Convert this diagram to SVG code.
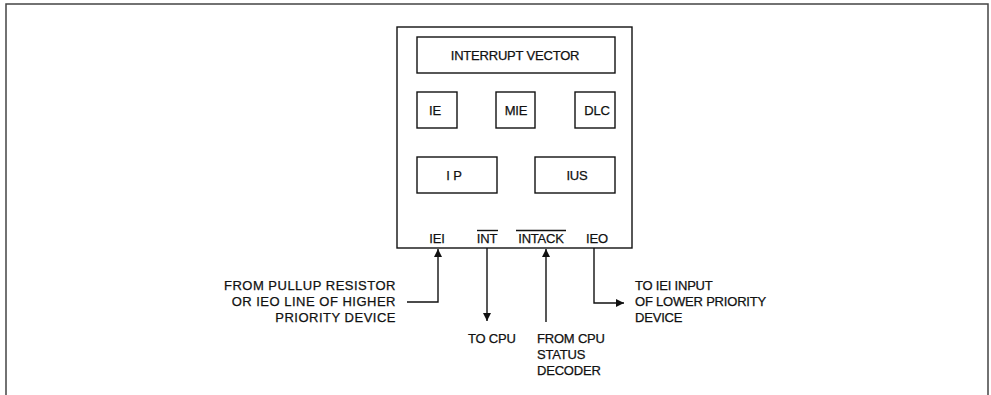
<svg xmlns="http://www.w3.org/2000/svg" width="991" height="395" viewBox="0 0 991 395">
<style>
.box{fill:none;stroke:#111;stroke-width:1.4}
.t{font-family:"Liberation Sans",Arial,sans-serif;font-size:13px;fill:#111;stroke:#111;stroke-width:0.25;letter-spacing:-0.2px}
.w{letter-spacing:0.5px}
.ln{fill:none;stroke:#111;stroke-width:1.4}
.fr{fill:none;stroke:#444;stroke-width:1.5}
</style>
<defs>
<marker id="ah" viewBox="0 0 10 10" refX="10" refY="5" markerWidth="10" markerHeight="8" markerUnits="userSpaceOnUse" orient="auto">
<path d="M0,0 L10,5 L0,10 Z" fill="#111"/>
</marker>
</defs>
<rect width="991" height="395" fill="#fff"/>
<path class="fr" d="M6,395 V4 H988 V395"/>
<g id="chip">
<rect class="box" x="397" y="27" width="235" height="221"/>
</g>
<g id="vector"><rect class="box" x="417" y="37" width="198" height="36"/><text class="t" x="515" y="60" text-anchor="middle">INTERRUPT VECTOR</text></g>
<g id="ie"><rect class="box" x="417" y="92" width="40" height="36"/><text class="t" x="429" y="115">IE</text></g>
<g id="mie"><rect class="box" x="496" y="92" width="39" height="36"/><text class="t" x="516" y="115" text-anchor="middle">MIE</text></g>
<g id="dlc"><rect class="box" x="575" y="92" width="40" height="36"/><text class="t" x="597" y="115" text-anchor="middle">DLC</text></g>
<g id="ip"><rect class="box" x="417" y="157" width="80" height="36"/><text class="t" x="454" y="180" text-anchor="middle">I P</text></g>
<g id="ius"><rect class="box" x="535" y="157" width="80" height="36"/><text class="t" x="577" y="180" text-anchor="middle">IUS</text></g>
<g id="pins">
<text class="t" x="437" y="243" text-anchor="middle">IEI</text>
<text class="t" x="487" y="243" text-anchor="middle">INT</text>
<line class="ln" x1="477" y1="230.5" x2="498" y2="230.5"/>
<text class="t" x="541" y="243" text-anchor="middle">INTACK</text>
<line class="ln" x1="516" y1="230.5" x2="566" y2="230.5"/>
<text class="t" x="597" y="243" text-anchor="middle">IEO</text>
</g>
<g id="connectors">
<path class="ln" d="M407,302 H438 V249" marker-end="url(#ah)"/>
<path class="ln" d="M487,248 V321" marker-end="url(#ah)"/>
<path class="ln" d="M546,322 V249" marker-end="url(#ah)"/>
<path class="ln" d="M594,248 V303 H624" marker-end="url(#ah)"/>
</g>
<g id="labels">
<text class="t w" x="396" y="290" text-anchor="end">FROM PULLUP RESISTOR</text>
<text class="t w" x="396" y="306" text-anchor="end">OR IEO LINE OF HIGHER</text>
<text class="t w" x="396" y="322" text-anchor="end">PRIORITY DEVICE</text>
<text class="t" x="635" y="290">TO IEI INPUT</text>
<text class="t" x="635" y="306">OF LOWER PRIORITY</text>
<text class="t" x="635" y="322">DEVICE</text>
<text class="t" x="468" y="343">TO CPU</text>
<text class="t" x="537" y="343">FROM CPU</text>
<text class="t" x="537" y="359">STATUS</text>
<text class="t" x="537" y="375">DECODER</text>
</g>
</svg>
